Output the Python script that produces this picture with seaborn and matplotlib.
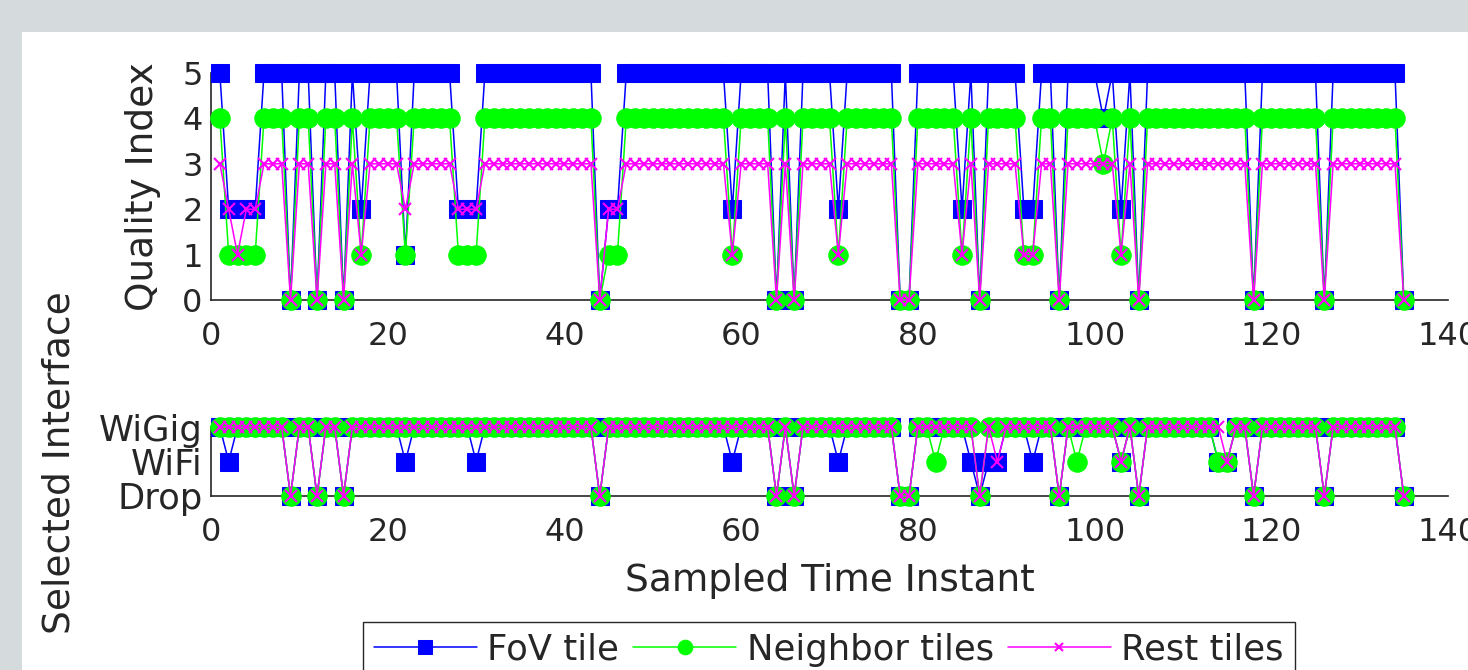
import numpy as np
import pandas as pd
import matplotlib
matplotlib.use("Agg")
import matplotlib.pyplot as plt
from matplotlib.patches import Rectangle
import seaborn as sns

sns.set_style("white")
plt.rcParams['font.family'] = ['DejaVu Sans']

# sampled time instants 1..135
t = list(range(1, 136))

# quality index per tile group
fov_q = [5, 2, 2, 2, 2, 5, 5, 5, 0, 5,
         5, 0, 5, 5, 0, 5, 2, 5, 5, 5,
         5, 1, 5, 5, 5, 5, 5, 2, 2, 2,
         5, 5, 5, 5, 5, 5, 5, 5, 5, 5,
         5, 5, 5, 0, 2, 2, 5, 5, 5, 5,
         5, 5, 5, 5, 5, 5, 5, 5, 2, 5,
         5, 5, 5, 0, 5, 0, 5, 5, 5, 5,
         2, 5, 5, 5, 5, 5, 5, 0, 0, 5,
         5, 5, 5, 5, 2, 5, 0, 5, 5, 5,
         5, 2, 2, 5, 5, 0, 5, 5, 5, 5,
         4, 5, 2, 5, 0, 5, 5, 5, 5, 5,
         5, 5, 5, 5, 5, 5, 5, 0, 5, 5,
         5, 5, 5, 5, 5, 0, 5, 5, 5, 5,
         5, 5, 5, 5, 0]
neighbor_q = [4, 1, 1, 1, 1, 4, 4, 4, 0, 4,
              4, 0, 4, 4, 0, 4, 1, 4, 4, 4,
              4, 1, 4, 4, 4, 4, 4, 1, 1, 1,
              4, 4, 4, 4, 4, 4, 4, 4, 4, 4,
              4, 4, 4, 0, 1, 1, 4, 4, 4, 4,
              4, 4, 4, 4, 4, 4, 4, 4, 1, 4,
              4, 4, 4, 0, 4, 0, 4, 4, 4, 4,
              1, 4, 4, 4, 4, 4, 4, 0, 0, 4,
              4, 4, 4, 4, 1, 4, 0, 4, 4, 4,
              4, 1, 1, 4, 4, 0, 4, 4, 4, 4,
              3, 4, 1, 4, 0, 4, 4, 4, 4, 4,
              4, 4, 4, 4, 4, 4, 4, 0, 4, 4,
              4, 4, 4, 4, 4, 0, 4, 4, 4, 4,
              4, 4, 4, 4, 0]
rest_q = [3, 2, 1, 2, 2, 3, 3, 3, 0, 3,
          3, 0, 3, 3, 0, 3, 1, 3, 3, 3,
          3, 2, 3, 3, 3, 3, 3, 2, 2, 2,
          3, 3, 3, 3, 3, 3, 3, 3, 3, 3,
          3, 3, 3, 0, 2, 2, 3, 3, 3, 3,
          3, 3, 3, 3, 3, 3, 3, 3, 1, 3,
          3, 3, 3, 0, 3, 0, 3, 3, 3, 3,
          1, 3, 3, 3, 3, 3, 3, 0, 0, 3,
          3, 3, 3, 3, 1, 3, 0, 3, 3, 3,
          3, 1, 1, 3, 3, 0, 3, 3, 3, 3,
          3, 3, 1, 3, 0, 3, 3, 3, 3, 3,
          3, 3, 3, 3, 3, 3, 3, 0, 3, 3,
          3, 3, 3, 3, 3, 0, 3, 3, 3, 3,
          3, 3, 3, 3, 0]

# selected interface: 0 = Drop, 1 = WiFi, 2 = WiGig
fov_if = [2, 1, 2, 2, 2, 2, 2, 2, 0, 2,
          2, 0, 2, 2, 0, 2, 2, 2, 2, 2,
          2, 1, 2, 2, 2, 2, 2, 2, 2, 1,
          2, 2, 2, 2, 2, 2, 2, 2, 2, 2,
          2, 2, 2, 0, 2, 2, 2, 2, 2, 2,
          2, 2, 2, 2, 2, 2, 2, 2, 1, 2,
          2, 2, 2, 0, 2, 0, 2, 2, 2, 2,
          1, 2, 2, 2, 2, 2, 2, 0, 0, 2,
          2, 2, 2, 2, 2, 1, 0, 1, 1, 2,
          2, 2, 1, 2, 2, 0, 2, 2, 2, 2,
          2, 2, 1, 2, 0, 2, 2, 2, 2, 2,
          2, 2, 2, 1, 1, 2, 2, 0, 2, 2,
          2, 2, 2, 2, 2, 0, 2, 2, 2, 2,
          2, 2, 2, 2, 0]
neighbor_if = [2, 2, 2, 2, 2, 2, 2, 2, 0, 2,
               2, 0, 2, 2, 0, 2, 2, 2, 2, 2,
               2, 2, 2, 2, 2, 2, 2, 2, 2, 2,
               2, 2, 2, 2, 2, 2, 2, 2, 2, 2,
               2, 2, 2, 0, 2, 2, 2, 2, 2, 2,
               2, 2, 2, 2, 2, 2, 2, 2, 2, 2,
               2, 2, 2, 0, 2, 0, 2, 2, 2, 2,
               2, 2, 2, 2, 2, 2, 2, 0, 0, 2,
               2, 1, 2, 2, 2, 2, 0, 2, 2, 2,
               2, 2, 2, 2, 2, 0, 2, 1, 2, 2,
               2, 2, 1, 2, 0, 2, 2, 2, 2, 2,
               2, 2, 2, 1, 1, 2, 2, 0, 2, 2,
               2, 2, 2, 2, 2, 0, 2, 2, 2, 2,
               2, 2, 2, 2, 0]
rest_if = [2, 2, 2, 2, 2, 2, 2, 2, 0, 2,
           2, 0, 2, 2, 0, 2, 2, 2, 2, 2,
           2, 2, 2, 2, 2, 2, 2, 2, 2, 2,
           2, 2, 2, 2, 2, 2, 2, 2, 2, 2,
           2, 2, 2, 0, 2, 2, 2, 2, 2, 2,
           2, 2, 2, 2, 2, 2, 2, 2, 2, 2,
           2, 2, 2, 0, 2, 0, 2, 2, 2, 2,
           2, 2, 2, 2, 2, 2, 2, 0, 0, 2,
           2, 2, 2, 2, 2, 2, 0, 2, 1, 2,
           2, 2, 2, 2, 2, 0, 2, 2, 2, 2,
           2, 2, 1, 2, 0, 2, 2, 2, 2, 2,
           2, 2, 2, 2, 1, 2, 2, 0, 2, 2,
           2, 2, 2, 2, 2, 0, 2, 2, 2, 2,
           2, 2, 2, 2, 0]

labels = ["FoV tile", "Neighbor tiles", "Rest tiles"]
if_labels = ["Drop", "WiFi", "WiGig"]

W, H = 1468, 670
fig = plt.figure(figsize=(W / 100, H / 100), dpi=100)
fig.patch.set_facecolor('#d5dadd')
fig.patches.append(Rectangle((22 / W, 0), 1, 1 - 32 / H, transform=fig.transFigure,
                             facecolor='white', edgecolor='none', zorder=-10))

def px_axes(x0, y0, x1, y1):
    return fig.add_axes([x0 / W, 1 - y1 / H, (x1 - x0) / W, (y1 - y0) / H])

ax1 = px_axes(211, 73, 1448, 300)
ax2 = px_axes(211, 427, 1448, 496)

styles = [
    dict(color=(0, 0, 1), marker='s', markersize=13.5),
    dict(color=(0, 1, 0), marker='o', markersize=14),
    dict(color=(1, 0, 1), marker='x', markersize=8, markeredgewidth=1.5),
]

df_q = pd.DataFrame({"t": t, labels[0]: fov_q, labels[1]: neighbor_q, labels[2]: rest_q})
df_if = pd.DataFrame({"t": t, labels[0]: fov_if, labels[1]: neighbor_if, labels[2]: rest_if})

axis_col = '#262626'
for ax, df in [(ax1, df_q), (ax2, df_if)]:
    ax.set_facecolor('none')
    for i, lab in enumerate(labels):
        st = dict(styles[i])
        col = st.pop('color')
        sns.lineplot(data=df, x="t", y=lab, ax=ax, color=col, linewidth=1.1,
                     markeredgecolor=col, clip_on=False, label=lab, zorder=3 + i,
                     **st)
    ax.set_xlim(0, 140)
    ax.set_xticks(range(0, 141, 20))
    ax.set_xlabel("")
    ax.set_ylabel("")
    for s in ['top', 'right']:
        ax.spines[s].set_visible(False)
    for s in ['left', 'bottom']:
        ax.spines[s].set_color(axis_col)
        ax.spines[s].set_linewidth(1.2)
    ax.tick_params(direction='in', length=8, width=1.2, colors=axis_col,
                   labelsize=23, labelcolor='#262626')
    ax.tick_params(axis='x', pad=15)
    ax.tick_params(axis='y', pad=6)
    ax.get_legend().remove()

ax1.set_ylim(0, 5)
ax1.set_yticks(range(0, 6))
ax1.set_ylabel("Quality Index", fontsize=27, color='#262626', labelpad=15)

ax2.set_ylim(0, 2)
ax2.set_yticks([0, 1, 2])
ax2.set_yticklabels(if_labels, fontsize=25.5)
ax2.set_xlabel("Sampled Time Instant", fontsize=27, color='#262626', labelpad=11)

fig.text(60 / W, 1 - 463 / H, "Selected Interface", rotation=90, fontsize=27,
         color='#262626', ha='center', va='center')

handles, _ = ax1.get_legend_handles_labels()
leg = fig.legend(handles[:3], labels, loc='upper center', ncol=3,
                 bbox_to_anchor=(829 / W, 1 - 622 / H), fontsize=25.5,
                 frameon=True, fancybox=False, framealpha=1, edgecolor='#262626',
                 handlelength=2.9, columnspacing=0.4, handletextpad=0.3,
                 borderpad=0.3, borderaxespad=0, markerscale=0.75)
leg.get_frame().set_linewidth(1.0)

fig.savefig("out.png", dpi=100, facecolor=fig.get_facecolor())
